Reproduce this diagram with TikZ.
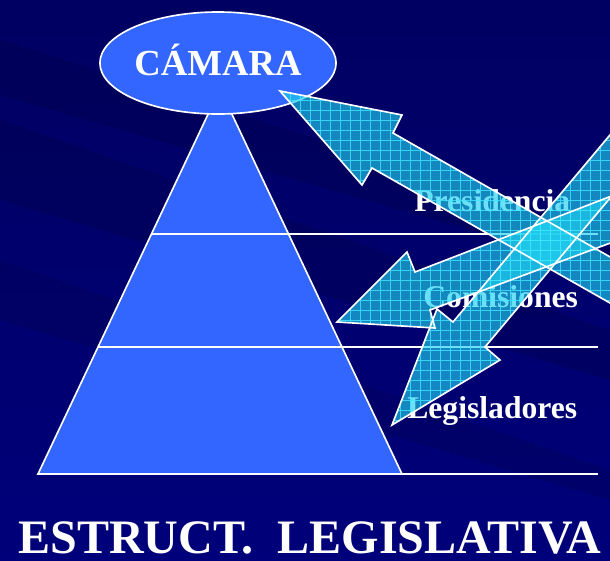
\documentclass[tikz,border=0pt]{standalone}
\usepackage{fontspec}
\setmainfont{Liberation Serif}
\usetikzlibrary{shapes.geometric,positioning}

\definecolor{fondoarriba}{HTML}{000062}
\definecolor{fondoabajo}{HTML}{00007A}
\definecolor{fondoosc}{HTML}{000048}
\definecolor{piramide}{HTML}{3366FF}
\definecolor{flechafill}{HTML}{20D0F0}
\definecolor{rejilla}{HTML}{40E8FF}

\def\flechaP{(280,91) -- (402,115) -- (393,133) -- (640,274) -- (640,320) -- (372,168) -- (362,185) -- cycle}
\def\flechaC{(337,322) -- (407,252) -- (415,272) -- (640,185) -- (640,232) -- (430,310) -- (435,328) -- cycle}
\def\flechaL{(392,425) -- (437,309) -- (453,322) -- (641,98) -- (673,123) -- (485,347) -- (500,360) -- cycle}

\begin{document}
\begin{tikzpicture}[x=0.3mm,y=-0.3mm,semithick]
	\tikzstyle{linea}=[draw=white,line width=1.4pt]
	\tikzstyle{nivel}=[text=white,font=\bfseries\fontsize{27}{30}\selectfont,anchor=base west,inner sep=0pt]
	\tikzstyle{flecha}=[fill=flechafill,fill opacity=0.65]
	\tikzstyle{cuadro}=[draw=rejilla,line width=0.8pt,draw opacity=0.8,step=3mm]
	\useasboundingbox (0,0) rectangle (610,561);
	\clip (0,0) rectangle (610,561);
	% fondo
	\shade[top color=fondoarriba,bottom color=fondoabajo] (0,0) rectangle (610,561);
	\fill[fondoosc,opacity=0.35] (0,40) -- (610,230) -- (610,270) -- (0,95) -- cycle;
	\fill[fondoosc,opacity=0.35] (0,120) -- (610,330) -- (610,380) -- (0,200) -- cycle;
	\fill[fondoosc,opacity=0.25] (0,260) -- (610,470) -- (610,500) -- (0,320) -- cycle;
	% piramide
	\coordinate (ap) at (220,89);
	\coordinate (bl) at (38,474);
	\coordinate (br) at (402,474);
	\coordinate (n1) at (151,234);
	\coordinate (n1f) at (598,234);
	\coordinate (n2) at (98,347);
	\coordinate (n2f) at (598,347);
	\coordinate (n3f) at (598,474);
	\filldraw[fill=piramide,linea] (ap) -- (bl) -- (br) -- cycle;
	\draw[linea] (n1) -- (n1f);
	\draw[linea] (n2) -- (n2f);
	\draw[linea] (bl) -- (n3f);
	\node[ellipse,fill=piramide,linea,minimum width=69.6mm,minimum height=30.6mm,inner sep=0pt,
		text=white,font=\bfseries\fontsize{31.3}{34}\selectfont,text height=20.7pt,text depth=0pt]
		(cam) at (218,63) {CÁMARA};
	% niveles
	\node[nivel] (pres) at (414,211) {Presidencia};
	\node[nivel] (com)  at (423,307) {Comisiones};
	\node[nivel] (leg)  at (407,418) {Legisladores};
	% flechas
	\foreach \f in {\flechaP,\flechaC,\flechaL} {
		\fill[flecha] \f;
		\begin{scope}
			\clip \f;
			\draw[cuadro] (250,460) grid (680,60);
		\end{scope}
	}
	\foreach \f in {\flechaP,\flechaC,\flechaL}
		\draw[linea,line join=miter] \f;
	\node[text=white,font=\bfseries\fontsize{41}{44}\selectfont,anchor=base,inner sep=0pt]
		(tit) at (310,553) {ESTRUCT.\ \ LEGISLATIVA};
\end{tikzpicture}
\end{document}
